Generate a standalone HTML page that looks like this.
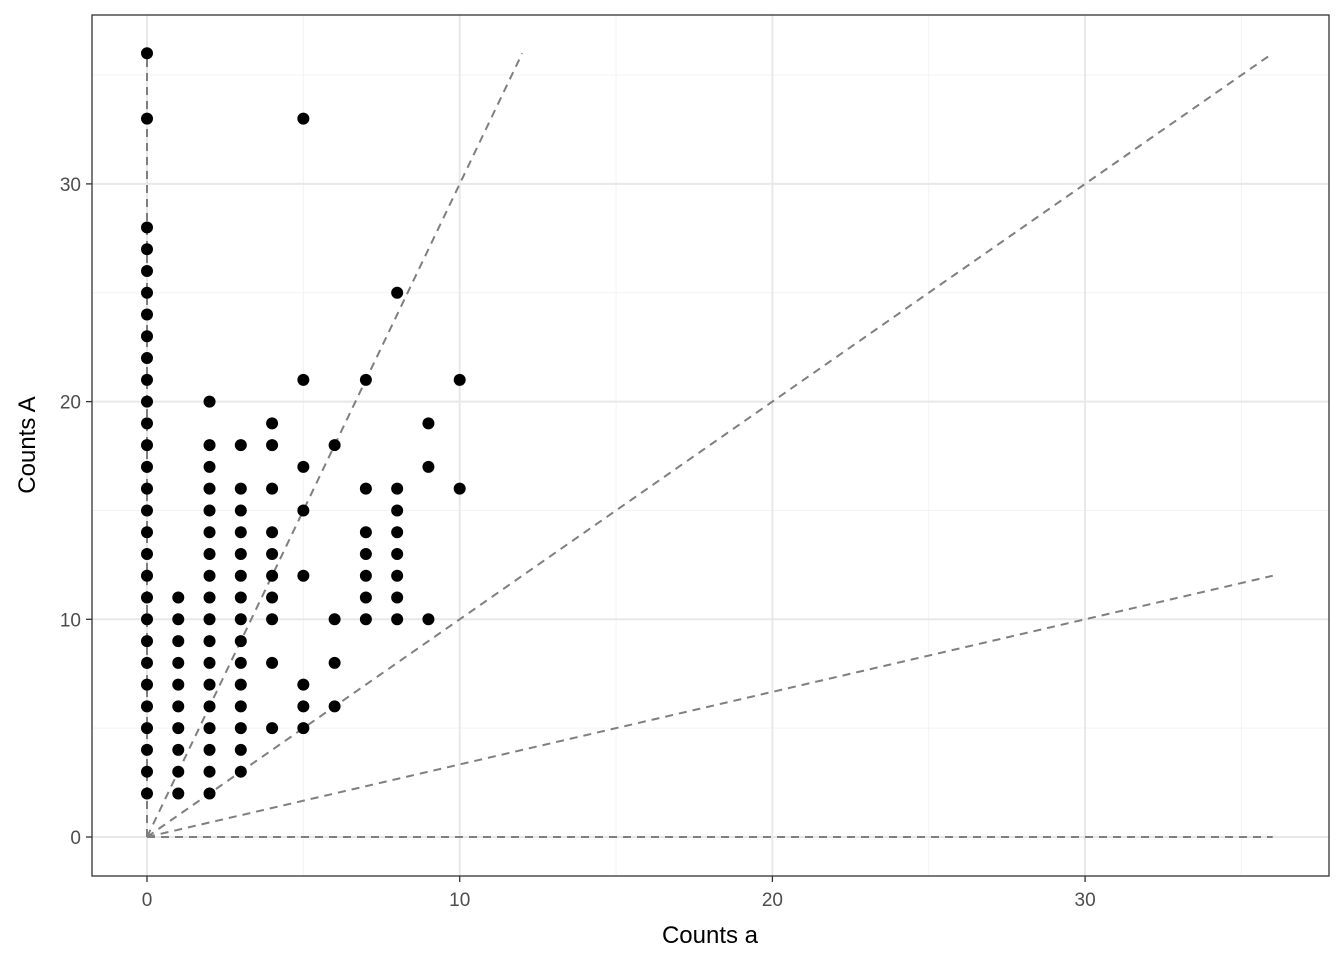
<!DOCTYPE html>
<html><head><meta charset="utf-8"><style>
body{margin:0;background:#fff;}
svg text{font-family:"Liberation Sans",sans-serif;}
</style></head><body>
<svg id="chart" width="1344" height="960">
<rect x="0" y="0" width="1344" height="960" fill="#fff"/>
<g id="grid"></g>
<g id="lines"></g>
<g id="points"></g>
<rect x="92" y="15" width="1237" height="861" fill="none" stroke="#333" stroke-width="1.3"/>
<g id="ticks"></g>
<text x="710" y="943" font-size="24" text-anchor="middle" fill="#000">Counts a</text>
<text transform="translate(35,445) rotate(-90)" font-size="24" text-anchor="middle" fill="#000">Counts A</text>
</svg>
<script>
const xTicks=[0,10,20,30];
const yTicks=[0,10,20,30];
const minorTicks=[5,15,25,35];
const slopes=[Infinity,3,1,1/3,0];
const lineEnd=36;
const px=[0,0,0,0,0,0,0,0,0,0,0,0,0,0,0,0,0,0,0,0,0,0,0,0,0,0,0,0,0,
1,1,1,1,1,1,1,1,1,1,
2,2,2,2,2,2,2,2,2,2,2,2,2,2,2,2,2,2,
3,3,3,3,3,3,3,3,3,3,3,3,3,3,3,
4,4,4,4,4,4,4,4,4,4,
5,5,5,5,5,5,5,5,
6,6,6,6,
7,7,7,7,7,7,7,
8,8,8,8,8,8,8,8,
9,9,9,
10,10];
const py=[2,3,4,5,6,7,8,9,10,11,12,13,14,15,16,17,18,19,20,21,22,23,24,25,26,27,28,33,36,
2,3,4,5,6,7,8,9,10,11,
2,3,4,5,6,7,8,9,10,11,12,13,14,15,16,17,18,20,
3,4,5,6,7,8,9,10,11,12,13,14,15,16,18,
5,8,10,11,12,13,14,16,18,19,
5,6,7,12,15,17,21,33,
6,8,10,18,
10,11,12,13,14,16,21,
10,11,12,13,14,15,16,25,
10,17,19,
16,21];
const X=v=>147+v*31.27, Y=v=>837-v*21.77;
const NS='http://www.w3.org/2000/svg';
function mk(t,a,p){const e=document.createElementNS(NS,t);for(const k in a)e.setAttribute(k,a[k]);p.appendChild(e);return e;}
const g=document.getElementById('grid'),tk=document.getElementById('ticks');
minorTicks.forEach(v=>{
 let l=mk('line',{x1:X(v),x2:X(v),y1:15,y2:876,stroke:'#f3f3f3','stroke-width':1},g);
 
 l=mk('line',{x1:92,x2:1329,y1:Y(v),y2:Y(v),stroke:'#f3f3f3','stroke-width':1},g);
 
});
xTicks.forEach(v=>{
 let l=mk('line',{x1:X(v),x2:X(v),y1:15,y2:876,stroke:'#e8e8e8','stroke-width':2},g);
 
 let t=mk('line',{x1:X(v),x2:X(v),y1:876,y2:882,stroke:'#333','stroke-width':1.3},tk);
 
 let tx=mk('text',{x:X(v),y:906,'font-size':19,'text-anchor':'middle',fill:'#4d4d4d'},tk);tx.textContent=v;
 
});
yTicks.forEach(v=>{
 let l=mk('line',{x1:92,x2:1329,y1:Y(v),y2:Y(v),stroke:'#e8e8e8','stroke-width':2},g);
 
 let t=mk('line',{x1:86,x2:92,y1:Y(v),y2:Y(v),stroke:'#333','stroke-width':1.3},tk);
 
 let tx=mk('text',{x:81,y:Y(v)+7,'font-size':19,'text-anchor':'end',fill:'#4d4d4d'},tk);tx.textContent=v;
 
});
const lg=document.getElementById('lines');
slopes.forEach(s=>{
 let x2,y2;
 if(s===Infinity){x2=0;y2=lineEnd;}else if(s>=1){y2=lineEnd;x2=lineEnd/s;}else{x2=lineEnd;y2=lineEnd*s;}
 let l=mk('line',{x1:X(0),y1:Y(0),x2:X(x2),y2:Y(y2),stroke:'#7f7f7f','stroke-width':2,'stroke-dasharray':'8 6'},lg);
 
});
const pg=document.getElementById('points');
px.forEach((v,i)=>{
 let c=mk('circle',{cx:X(v),cy:Y(py[i]),r:6,fill:'#000'},pg);
 
});
</script>
</body></html>
